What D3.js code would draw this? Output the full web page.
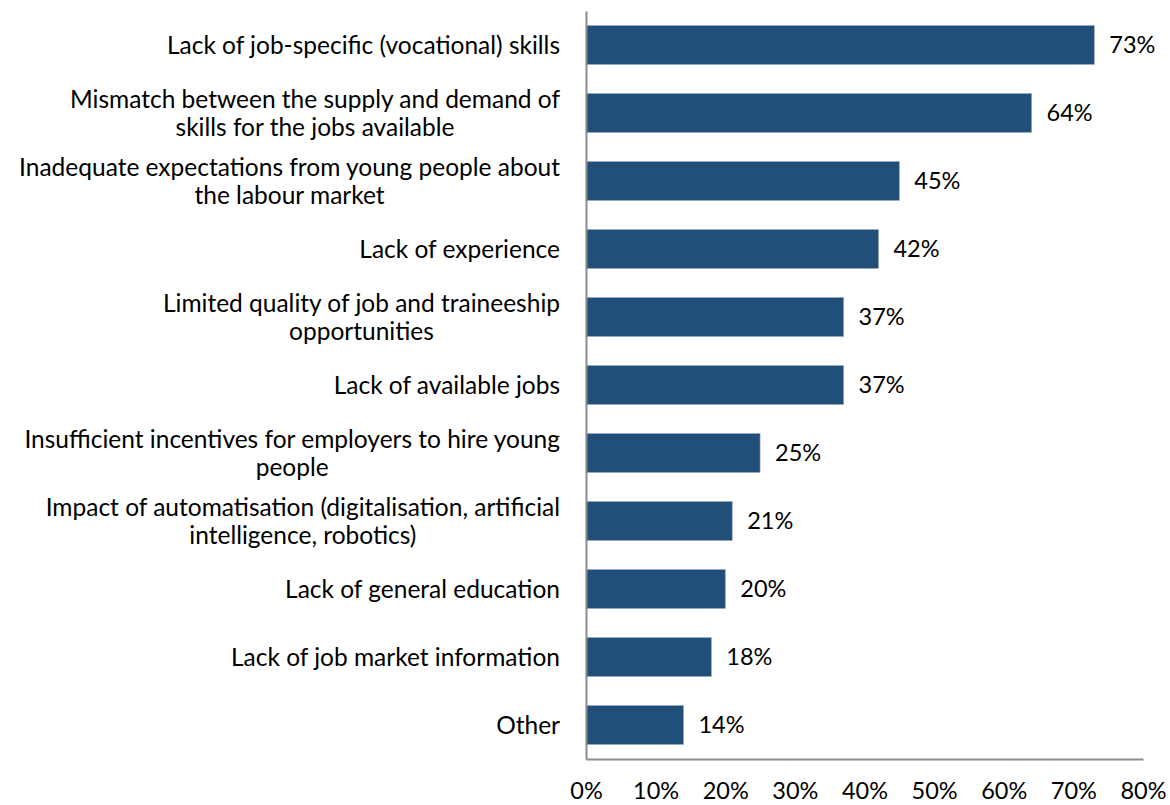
<!DOCTYPE html>
<html>
<head>
<meta charset="utf-8">
<script src="https://cdn.jsdelivr.net/npm/d3@7"></script>
<style>
  html, body { margin: 0; padding: 0; background: #fff; }
  svg text { font-family: Lato, "Open Sans", sans-serif; fill: #000; }
</style>
</head>
<body>
<svg id="chart" width="1170" height="805"></svg>
<script>
// Reasons given for youth unemployment (share of respondents, %)
const categories = [
  ["Lack of job-specific (vocational) skills"],
  ["Mismatch between the supply and demand of", "skills for the jobs available"],
  ["Inadequate expectations from young people about", "the labour market"],
  ["Lack of experience"],
  ["Limited quality of job and traineeship", "opportunities"],
  ["Lack of available jobs"],
  ["Insufficient incentives for employers to hire young", "people"],
  ["Impact of automatisation (digitalisation, artificial", "intelligence, robotics)"],
  ["Lack of general education"],
  ["Lack of job market information"],
  ["Other"]
];
const values = [73, 64, 45, 42, 37, 37, 25, 21, 20, 18, 14];
const tickValues = [0, 10, 20, 30, 40, 50, 60, 70, 80];

const svg = d3.select("#chart");
const margin = { left: 586, right: 27, top: 11, bottom: 46 };
const W = 1170, H = 805;
const labelSize = 24.5;
const numberSize = 23.5;

const x = d3.scaleLinear().domain([0, 80]).range([margin.left, W - margin.right]);
const y = d3.scaleBand()
  .domain(d3.range(categories.length))
  .range([margin.top, H - margin.bottom])
  .paddingInner(0.43)
  .paddingOuter(0.215);

// Bars
svg.append("g").selectAll("rect")
  .data(values)
  .join("rect")
  .attr("x", x(0))
  .attr("y", (d, i) => y(i))
  .attr("width", d => x(d) - x(0))
  .attr("height", y.bandwidth())
  .attr("fill", "#224f79")
  .attr("stroke", "#8aa3bd")
  .attr("stroke-width", 0.6);

// Value labels
svg.append("g").selectAll("text")
  .data(values)
  .join("text")
  .attr("x", d => x(d) + 15)
  .attr("y", (d, i) => y(i) + y.bandwidth() / 2)
  .attr("dy", "0.35em")
  .style("font-size", numberSize + "px")
  .text(d => d + "%");

// Category labels: each block right-aligned to the axis, lines centred within the block
const labelRight = 560;
const lineH = 28;
const catG = svg.append("g");
categories.forEach((lines, i) => {
  const cy = y(i) + y.bandwidth() / 2;
  const t = catG.append("text").style("font-size", labelSize + "px").attr("text-anchor", "middle");
  const spans = lines.map((ln, k) =>
    t.append("tspan")
      .attr("y", cy + (k - (lines.length - 1) / 2) * lineH)
      .attr("dy", "0.35em")
      .text(ln));
  const maxW = d3.max(spans, s => s.node().getComputedTextLength());
  spans.forEach(s => s.attr("x", labelRight - maxW / 2));
});

// Axes
const xAxis = d3.axisBottom(x)
  .tickValues(tickValues)
  .tickFormat(d => d + "%")
  .tickSize(0)
  .tickPadding(23);
const gx = svg.append("g")
  .attr("transform", `translate(0,${H - margin.bottom})`)
  .call(xAxis);
gx.select(".domain").attr("stroke", "#8c8c8c").attr("stroke-width", 2);
gx.selectAll("text").style("font-size", numberSize + "px").attr("fill", "#000");

const yAxis = d3.axisLeft(y).tickValues([]).tickSize(0);
const gy = svg.append("g")
  .attr("transform", `translate(${x(0)},0)`)
  .call(yAxis);
gy.select(".domain").attr("stroke", "#8c8c8c").attr("stroke-width", 2);
</script>
</body>
</html>
